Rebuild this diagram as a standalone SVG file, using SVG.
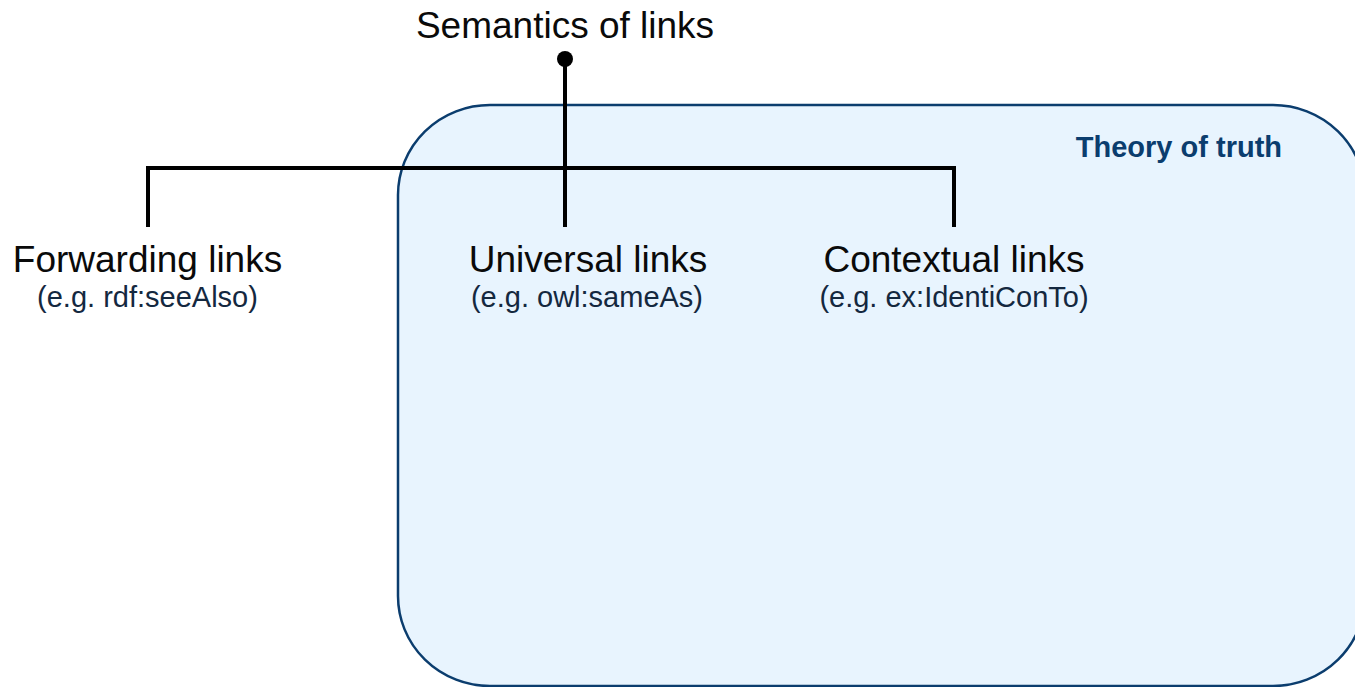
<svg xmlns="http://www.w3.org/2000/svg" width="1355" height="687" viewBox="0 0 1355 687">
  <style>
    .title { font-family: "Liberation Sans", Arial, sans-serif; font-size: 37px; fill: #0a0a0a; text-anchor: middle; }
    .sub { font-family: "Liberation Sans", Arial, sans-serif; font-size: 29px; fill: #14283f; text-anchor: middle; }
    .region-label { font-family: "Liberation Sans", Arial, sans-serif; font-size: 29px; font-weight: bold; fill: #0b3d6e; text-anchor: end; }
    .tree { stroke: #000; stroke-width: 4; fill: none; }
  </style>

  <!-- Region: theory of truth -->
  <g id="theory-of-truth">
    <rect x="398" y="105" width="967" height="581" rx="92" ry="90" fill="#e8f4fe" stroke="#0b3d6e" stroke-width="2.5"/>
    <text class="region-label" x="1282" y="157">Theory of truth</text>
  </g>

  <!-- Root -->
  <g id="semantics-of-links">
    <text class="title" x="565" y="38">Semantics of links</text>
  </g>

  <!-- Tree connectors -->
  <g id="connectors">
    <circle cx="565" cy="59" r="8" fill="#000"/>
    <path class="tree" d="M565 59 V227"/>
    <path class="tree" d="M148 227 V168 H954 V227"/>
  </g>

  <g id="forwarding-links">
    <text class="title" x="147.5" y="272">Forwarding links</text>
    <text class="sub" x="147.5" y="307">(e.g. rdf:seeAlso)</text>
  </g>

  <g id="universal-links">
    <text class="title" x="588" y="272">Universal links</text>
    <text class="sub" x="587" y="307">(e.g. owl:sameAs)</text>
  </g>

  <g id="contextual-links">
    <text class="title" x="954" y="272">Contextual links</text>
    <text class="sub" x="954" y="307">(e.g. ex:IdentiConTo)</text>
  </g>
</svg>
